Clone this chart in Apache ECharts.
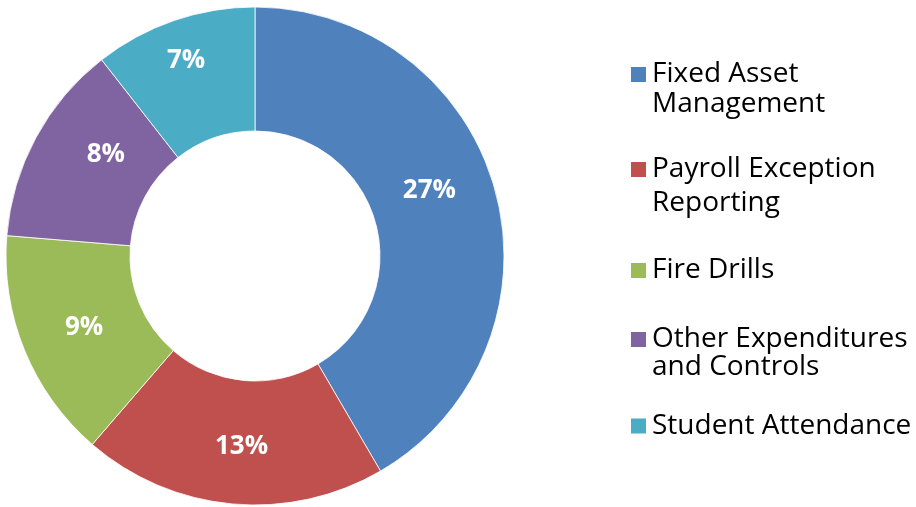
<!DOCTYPE html>
<html lang="en">
<head>
    <meta charset="UTF-8">
    <script type="text/javascript" src="https://cdn.jsdelivr.net/npm/echarts@6/dist/echarts.min.js"></script>
    <title>Document</title>
    <style>
        html, body { margin: 0; padding: 0; background: #fff; }
        #chart { width: 916px; height: 507px; }
    </style>
</head>
<body>
    <div id="chart"></div>
<script>
    // data
    var categories = ['Fixed Asset Management', 'Payroll Exception Reporting', 'Fire Drills', 'Other Expenditures and Controls', 'Student Attendance'];
    // share of the ring each slice takes (measured from the slice angles)
    var shares = [41.6, 19.75, 14.97, 13.14, 10.56];
    // numbers printed on the slices
    var labelValues = [27, 13, 9, 8, 7];
    var colors = ['#4F81BD', '#C0504D', '#9BBB59', '#8064A2', '#4BACC6'];
    // legend text as it wraps in the picture
    var legendLines = [
        ['Fixed Asset', 'Management'],
        ['Payroll Exception', 'Reporting'],
        ['Fire Drills'],
        ['Other Expenditures', 'and Controls'],
        ['Student Attendance']
    ];

    // layout
    var legendIconY = [74.5, 169.5, 270.5, 339.5, 426];
    var legendLineHeight = [30, 34, 30, 28, 30];
    var labelOffsets = [[-9, -16], [4, 1], [5, 0], [18, -11], [-7, -16]];
    var font = 'Open Sans';

    var legends = categories.map(function (name, i) {
        var lines = legendLines[i];
        var lh = legendLineHeight[i];
        // a blank first line keeps the icon level with the first text line
        var txt = lines.length > 1 ? ' \n' + lines.join('\n') : lines[0];
        var blockH = lines.length > 1 ? lh * 3 : lh;
        return {
            data: [name],
            left: 629,
            top: legendIconY[i] - blockH / 2,
            orient: 'vertical',
            icon: 'rect',
            itemWidth: 17,
            itemHeight: 17,
            itemGap: 0,
            padding: 0,
            selectedMode: false,
            formatter: function () { return txt; },
            textStyle: {
                fontFamily: font,
                fontSize: 28,
                color: '#000',
                lineHeight: lh
            }
        };
    });

    var myChart = echarts.init(document.getElementById('chart'));
    myChart.setOption({
        animation: false,
        color: colors,
        legend: legends,
        series: [{
            type: 'pie',
            center: [255, 256],
            radius: [125, 249],
            startAngle: 90,
            clockwise: true,
            itemStyle: {
                borderColor: '#fff',
                borderWidth: 0.8
            },
            label: {
                position: 'inside',
                color: '#fff',
                fontFamily: font,
                fontWeight: 'bold',
                fontSize: 26
            },
            labelLine: { show: false },
            emphasis: { disabled: true },
            data: categories.map(function (name, i) {
                return {
                    name: name,
                    value: shares[i],
                    label: {
                        formatter: labelValues[i] + '%',
                        offset: labelOffsets[i]
                    }
                };
            })
        }]
    });
</script>
</body>
</html>
